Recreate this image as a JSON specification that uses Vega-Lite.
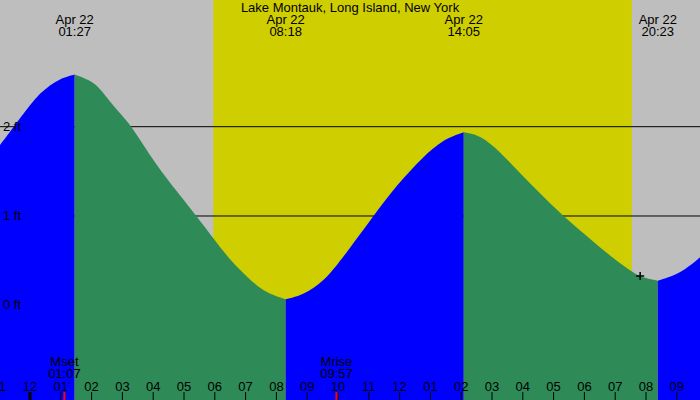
{
  "$schema": "https://vega.github.io/schema/vega-lite/v6.json",
  "width": 700,
  "height": 400,
  "autosize": "none",
  "padding": 0,
  "background": "#BEBEBE",
  "config": {
    "view": {"stroke": null},
    "font": "Liberation Sans",
    "text": {"font": "Liberation Sans", "fontSize": 13, "color": "black"}
  },
  "datasets": {
    "tide": [
      {"h": -0.974, "ft": 1.795, "seg": 1, "phase": "rising"},
      {"h": -0.649, "ft": 1.944, "seg": 1, "phase": "rising"},
      {"h": -0.325, "ft": 2.094, "seg": 1, "phase": "rising"},
      {"h": 0.0, "ft": 2.243, "seg": 1, "phase": "rising"},
      {"h": 0.325, "ft": 2.374, "seg": 1, "phase": "rising"},
      {"h": 0.649, "ft": 2.467, "seg": 1, "phase": "rising"},
      {"h": 0.974, "ft": 2.534, "seg": 1, "phase": "rising"},
      {"h": 1.299, "ft": 2.571, "seg": 1, "phase": "rising"},
      {"h": 1.45, "ft": 2.584, "seg": 1, "phase": "rising"},
      {"h": 1.45, "ft": 2.584, "seg": 2, "phase": "falling"},
      {"h": 1.948, "ft": 2.523, "seg": 2, "phase": "falling"},
      {"h": 2.273, "ft": 2.43, "seg": 2, "phase": "falling"},
      {"h": 2.597, "ft": 2.28, "seg": 2, "phase": "falling"},
      {"h": 2.922, "ft": 2.15, "seg": 2, "phase": "falling"},
      {"h": 3.302, "ft": 2.0, "seg": 2, "phase": "falling"},
      {"h": 3.679, "ft": 1.795, "seg": 2, "phase": "falling"},
      {"h": 4.328, "ft": 1.459, "seg": 2, "phase": "falling"},
      {"h": 5.412, "ft": 1.0, "seg": 2, "phase": "falling"},
      {"h": 5.951, "ft": 0.75, "seg": 2, "phase": "falling"},
      {"h": 6.494, "ft": 0.507, "seg": 2, "phase": "falling"},
      {"h": 7.143, "ft": 0.283, "seg": 2, "phase": "falling"},
      {"h": 7.685, "ft": 0.134, "seg": 2, "phase": "falling"},
      {"h": 8.3, "ft": 0.067, "seg": 2, "phase": "falling"},
      {"h": 8.3, "ft": 0.067, "seg": 3, "phase": "rising"},
      {"h": 8.873, "ft": 0.115, "seg": 3, "phase": "rising"},
      {"h": 9.523, "ft": 0.264, "seg": 3, "phase": "rising"},
      {"h": 10.065, "ft": 0.488, "seg": 3, "phase": "rising"},
      {"h": 11.127, "ft": 0.992, "seg": 3, "phase": "rising"},
      {"h": 11.906, "ft": 1.347, "seg": 3, "phase": "rising"},
      {"h": 12.769, "ft": 1.664, "seg": 3, "phase": "rising"},
      {"h": 13.419, "ft": 1.859, "seg": 3, "phase": "rising"},
      {"h": 14.083, "ft": 1.937, "seg": 3, "phase": "rising"},
      {"h": 14.083, "ft": 1.937, "seg": 4, "phase": "falling"},
      {"h": 14.61, "ft": 1.907, "seg": 4, "phase": "falling"},
      {"h": 15.26, "ft": 1.72, "seg": 4, "phase": "falling"},
      {"h": 15.909, "ft": 1.478, "seg": 4, "phase": "falling"},
      {"h": 16.558, "ft": 1.254, "seg": 4, "phase": "falling"},
      {"h": 17.208, "ft": 1.03, "seg": 4, "phase": "falling"},
      {"h": 18.289, "ft": 0.712, "seg": 4, "phase": "falling"},
      {"h": 18.938, "ft": 0.526, "seg": 4, "phase": "falling"},
      {"h": 19.536, "ft": 0.376, "seg": 4, "phase": "falling"},
      {"h": 19.805, "ft": 0.317, "seg": 4, "phase": "falling"},
      {"h": 20.383, "ft": 0.275, "seg": 4, "phase": "falling"},
      {"h": 20.383, "ft": 0.275, "seg": 5, "phase": "rising"},
      {"h": 20.997, "ft": 0.339, "seg": 5, "phase": "rising"},
      {"h": 21.536, "ft": 0.47, "seg": 5, "phase": "rising"},
      {"h": 21.753, "ft": 0.538, "seg": 5, "phase": "rising"}
    ],
    "sun": [{"rise": 5.95, "set": 19.54}],
    "grid": [{"ft": 1}, {"ft": 2}],
    "levels": [
      {"ft": 0, "label": "0 ft"},
      {"ft": 1, "label": "1 ft"},
      {"ft": 2, "label": "2 ft"}
    ],
    "hours": [
      {"h": -1, "label": "11"}, {"h": 0, "label": "12"}, {"h": 1, "label": "01"},
      {"h": 2, "label": "02"}, {"h": 3, "label": "03"}, {"h": 4, "label": "04"},
      {"h": 5, "label": "05"}, {"h": 6, "label": "06"}, {"h": 7, "label": "07"},
      {"h": 8, "label": "08"}, {"h": 9, "label": "09"}, {"h": 10, "label": "10"},
      {"h": 11, "label": "11"}, {"h": 12, "label": "12"}, {"h": 13, "label": "01"},
      {"h": 14, "label": "02"}, {"h": 15, "label": "03"}, {"h": 16, "label": "04"},
      {"h": 17, "label": "05"}, {"h": 18, "label": "06"}, {"h": 19, "label": "07"},
      {"h": 20, "label": "08"}, {"h": 21, "label": "09"}
    ],
    "title": [{"h": 10.39, "label": "Lake Montauk, Long Island, New York"}],
    "extremes": [
      {"h": 1.45, "label": "Apr 22\n01:27"},
      {"h": 8.3, "label": "Apr 22\n08:18"},
      {"h": 14.083, "label": "Apr 22\n14:05"},
      {"h": 20.383, "label": "Apr 22\n20:23"}
    ],
    "moon": [
      {"h": 1.117, "label": "Mset\n01:07"},
      {"h": 9.95, "label": "Mrise\n09:57"}
    ],
    "midnight": [{"h": 0}],
    "now": [{"h": 19.81, "ft": 0.327}]
  },
  "layer": [
    {
      "data": {"name": "sun"},
      "mark": {"type": "rect", "color": "#CFCE00"},
      "encoding": {
        "x": {"field": "rise", "type": "quantitative", "scale": {"domain": [-0.974, 21.753], "nice": false, "zero": false}, "axis": null},
        "x2": {"field": "set"}
      }
    },
    {
      "data": {"name": "grid"},
      "mark": {"type": "rule", "color": "black", "strokeWidth": 1},
      "encoding": {
        "y": {"field": "ft", "type": "quantitative", "scale": {"domain": [-1.0605, 3.4188], "nice": false, "zero": false}, "axis": null}
      }
    },
    {
      "data": {"name": "tide"},
      "mark": {"type": "area", "interpolate": "basis"},
      "encoding": {
        "x": {"field": "h", "type": "quantitative", "scale": {"domain": [-0.974, 21.753], "nice": false, "zero": false}},
        "y": {"field": "ft", "type": "quantitative", "stack": null, "scale": {"domain": [-1.0605, 3.4188], "nice": false, "zero": false}},
        "y2": {"datum": -1.0605},
        "color": {
          "field": "phase",
          "type": "nominal",
          "scale": {"domain": ["rising", "falling"], "range": ["#0000FF", "#2E8B57"]},
          "legend": null
        },
        "detail": {"field": "seg", "type": "nominal"}
      }
    },
    {
      "data": {"name": "levels"},
      "mark": {"type": "text", "align": "left", "baseline": "middle", "fontSize": 13},
      "encoding": {
        "x": {"datum": -0.877, "scale": {"domain": [-0.974, 21.753], "nice": false, "zero": false}},
        "y": {"field": "ft", "type": "quantitative", "scale": {"domain": [-1.0605, 3.4188], "nice": false, "zero": false}},
        "text": {"field": "label"}
      }
    },
    {
      "data": {"name": "hours"},
      "mark": {"type": "rule", "color": "black", "strokeWidth": 1},
      "encoding": {
        "x": {"field": "h", "type": "quantitative", "scale": {"domain": [-0.974, 21.753], "nice": false, "zero": false}},
        "y": {"datum": -1.0605, "scale": {"domain": [-1.0605, 3.4188], "nice": false, "zero": false}},
        "y2": {"datum": -0.971}
      }
    },
    {
      "data": {"name": "hours"},
      "mark": {"type": "text", "align": "center", "baseline": "alphabetic", "fontSize": 13},
      "encoding": {
        "x": {"field": "h", "type": "quantitative", "scale": {"domain": [-0.974, 21.753], "nice": false, "zero": false}},
        "y": {"datum": -0.956, "scale": {"domain": [-1.0605, 3.4188], "nice": false, "zero": false}},
        "text": {"field": "label"}
      }
    },
    {
      "data": {"name": "midnight"},
      "mark": {"type": "rule", "color": "black", "strokeWidth": 3},
      "encoding": {
        "x": {"field": "h", "type": "quantitative", "scale": {"domain": [-0.974, 21.753], "nice": false, "zero": false}},
        "y": {"datum": -1.0605, "scale": {"domain": [-1.0605, 3.4188], "nice": false, "zero": false}},
        "y2": {"datum": -0.971}
      }
    },
    {
      "data": {"name": "moon"},
      "mark": {"type": "rule", "color": "#FF0000", "strokeWidth": 2},
      "encoding": {
        "x": {"field": "h", "type": "quantitative", "scale": {"domain": [-0.974, 21.753], "nice": false, "zero": false}},
        "y": {"datum": -1.0605, "scale": {"domain": [-1.0605, 3.4188], "nice": false, "zero": false}},
        "y2": {"datum": -0.971}
      }
    },
    {
      "data": {"name": "moon"},
      "mark": {"type": "text", "align": "center", "baseline": "alphabetic", "lineBreak": "\n", "lineHeight": 12, "fontSize": 13},
      "encoding": {
        "x": {"field": "h", "type": "quantitative", "scale": {"domain": [-0.974, 21.753], "nice": false, "zero": false}},
        "y": {"datum": -0.68, "scale": {"domain": [-1.0605, 3.4188], "nice": false, "zero": false}},
        "text": {"field": "label"}
      }
    },
    {
      "data": {"name": "extremes"},
      "mark": {"type": "text", "align": "center", "baseline": "alphabetic", "lineBreak": "\n", "lineHeight": 12, "fontSize": 13},
      "encoding": {
        "x": {"field": "h", "type": "quantitative", "scale": {"domain": [-0.974, 21.753], "nice": false, "zero": false}},
        "y": {"datum": 3.15, "scale": {"domain": [-1.0605, 3.4188], "nice": false, "zero": false}},
        "text": {"field": "label"}
      }
    },
    {
      "data": {"name": "title"},
      "mark": {"type": "text", "align": "center", "baseline": "alphabetic", "fontSize": 13},
      "encoding": {
        "x": {"field": "h", "type": "quantitative", "scale": {"domain": [-0.974, 21.753], "nice": false, "zero": false}},
        "y": {"datum": 3.279, "scale": {"domain": [-1.0605, 3.4188], "nice": false, "zero": false}},
        "text": {"field": "label"}
      }
    },
    {
      "data": {"name": "now"},
      "mark": {"type": "point", "shape": "M-1,0H1M0,-1V1", "size": 64, "filled": false, "stroke": "black", "strokeWidth": 1.5, "opacity": 1},
      "encoding": {
        "x": {"field": "h", "type": "quantitative", "scale": {"domain": [-0.974, 21.753], "nice": false, "zero": false}},
        "y": {"field": "ft", "type": "quantitative", "scale": {"domain": [-1.0605, 3.4188], "nice": false, "zero": false}}
      }
    }
  ]
}
